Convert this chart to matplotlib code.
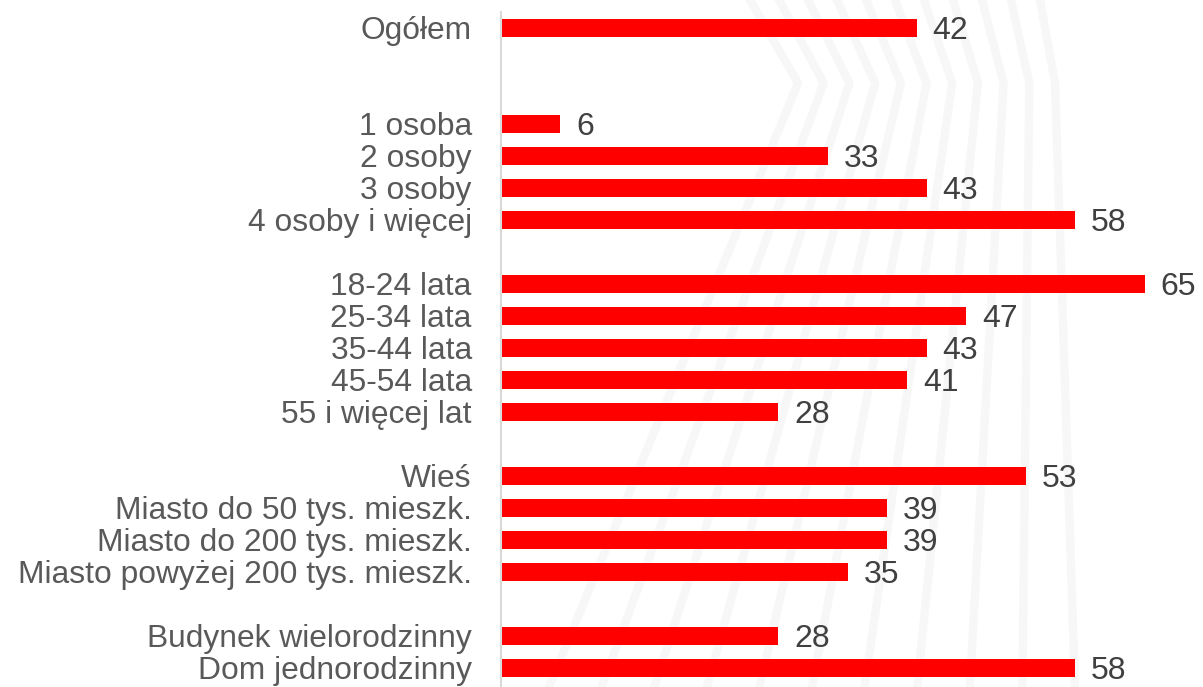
import matplotlib.pyplot as plt
from matplotlib.lines import Line2D
import numpy as np

categories = ['Ogółem', '', '',
              '1 osoba', '2 osoby', '3 osoby', '4 osoby i więcej', '',
              '18-24 lata', '25-34 lata', '35-44 lata', '45-54 lata', '55 i więcej lat', '',
              'Wieś', 'Miasto do 50 tys. mieszk.', 'Miasto do 200 tys. mieszk.',
              'Miasto powyżej 200 tys. mieszk.', '',
              'Budynek wielorodzinny', 'Dom jednorodzinny']
values = [42, None, None,
          6, 33, 43, 58, None,
          65, 47, 43, 41, 28, None,
          53, 39, 39, 35, None,
          28, 58]

plt.rcParams['font.family'] = ['Liberation Sans', 'DejaVu Sans']

fig = plt.figure(figsize=(12.03, 6.87), dpi=100)

# faint decorative stripes in the background
top_x = np.linspace(750, 1040, 11)
kink_x = np.linspace(798, 1055, 11)
bot_x = np.linspace(549, 1075, 11)
for a, b, c in zip(top_x, kink_x, bot_x):
    fig.add_artist(Line2D([a / 1203, b / 1203, c / 1203],
                          [1, 1 - 83 / 687, 0],
                          color='#f7f7f7', linewidth=6, zorder=0,
                          transform=fig.transFigure))

ax = fig.add_axes([501 / 1203, 0, 702 / 1203, 675 / 687])
ax.patch.set_alpha(0)

pos = np.arange(len(categories))
for y, v in zip(pos, values):
    if v is None:
        continue
    ax.barh(y, v, height=0.58, color='#ff0000', zorder=2)
    ax.text(v + 1.6, y + 0.1, str(v), va='center', ha='left', fontsize=23,
            color='#404040', family=['Liberation Sans Narrow', 'Liberation Sans'])

ax.set_xlim(0, 70.9)
ax.set_ylim(20.6, -0.5)
ax.set_yticks(pos)
ax.set_yticklabels(categories, fontsize=22.9, color='#595959')
ax.tick_params(axis='y', length=0, pad=21)
ax.set_xticks([])
for s in ['top', 'right', 'bottom']:
    ax.spines[s].set_visible(False)
ax.spines['left'].set_color('#d9d9d9')
ax.spines['left'].set_linewidth(1.5)

fig.savefig('out.png', dpi=100)
